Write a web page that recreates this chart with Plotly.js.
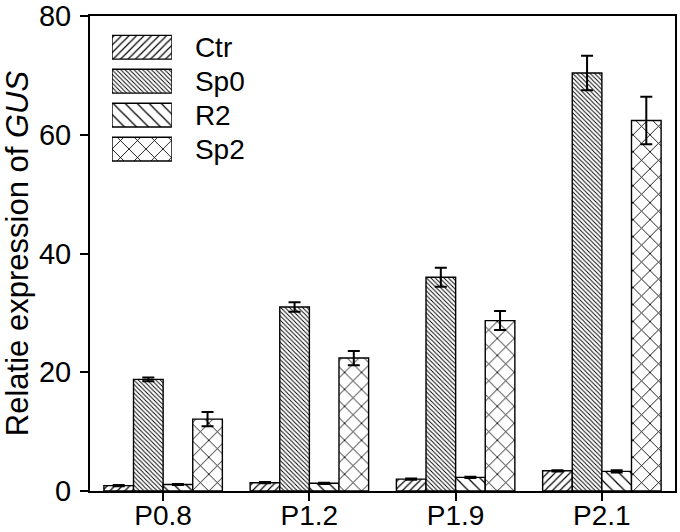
<!DOCTYPE html>
<html>
<head>
<meta charset="utf-8">
<script src="https://cdn.plot.ly/plotly-3.0.1.min.js"></script>
<style>
  html, body { margin: 0; padding: 0; background: #fff; }
  #chart { width: 680px; height: 532px; }
</style>
</head>
<body>
<div id="chart"></div>
<script>
// categories and series
var promoters = ['P0.8', 'P1.2', 'P1.9', 'P2.1'];
var seriesNames = ['Ctr', 'Sp0', 'R2', 'Sp2'];

var ctrVals = [0.9, 1.4, 2.0, 3.4];
var ctrErr = [0.1, 0.1, 0.1, 0.1];
var sp0Vals = [18.8, 31.0, 36.0, 70.4];
var sp0Err = [0.3, 0.8, 1.6, 2.9];
var r2Vals = [1.1, 1.3, 2.3, 3.3];
var r2Err = [0.1, 0.1, 0.1, 0.2];
var sp2Vals = [12.1, 22.4, 28.7, 62.4];
var sp2Err = [1.2, 1.2, 1.6, 4.0];

// hatch styles per series
var hatchShape = ['/', '\\', '\\', 'x'];
var hatchSize = [5.3, 3.1, 8.5, 12];
var hatchSolid = [0.22, 0.3, 0.15, 0.14];

var allVals = [ctrVals, sp0Vals, r2Vals, sp2Vals];
var allErr = [ctrErr, sp0Err, r2Err, sp2Err];

var traces = [];
for (var i = 0; i < seriesNames.length; i++) {
    traces.push({
        type: 'bar',
        name: seriesNames[i],
        x: promoters,
        y: allVals[i],
        error_y: { type: 'data', array: allErr[i], color: '#000', thickness: 2, width: 6 },
        marker: {
            color: '#fff',
            line: { color: '#000', width: 1.4 },
            pattern: { shape: hatchShape[i], size: hatchSize[i], solidity: hatchSolid[i],
                       fgcolor: '#000', bgcolor: '#fff', fillmode: 'replace' }
        },
        showlegend: false,
        hoverinfo: 'skip'
    });
}

// legend swatches drawn as a small horizontal bar subplot
traces.push({
    type: 'bar',
    orientation: 'h',
    xaxis: 'x2',
    yaxis: 'y2',
    y: seriesNames,
    x: seriesNames.map(function () { return 1; }),
    width: 0.7,
    offset: -0.35,
    marker: {
        color: '#fff',
        line: { color: '#000', width: 1.4 },
        pattern: { shape: hatchShape, size: hatchSize, solidity: hatchSolid,
                   fgcolor: '#000', bgcolor: '#fff', fillmode: 'replace' }
    },
    showlegend: false,
    hoverinfo: 'skip'
});

var font = 'Liberation Sans, Arial, sans-serif';

var layout = {
    width: 680,
    height: 532,
    margin: { l: 90, r: 5, t: 16, b: 41 },
    paper_bgcolor: '#fff',
    plot_bgcolor: 'rgba(0,0,0,0)',
    font: { family: font, size: 28, color: '#000' },
    barmode: 'group',
    bargap: 0.19,
    bargroupgap: 0,
    showlegend: false,
    xaxis: {
        range: [-0.5, 3.5],
        showline: true, linecolor: '#000', linewidth: 2, mirror: true,
        ticks: 'outside', ticklen: 8, tickwidth: 2, tickcolor: '#000',
        ticklabelstandoff: -10,
        showgrid: false, zeroline: false,
        tickfont: { size: 28 }
    },
    yaxis: {
        range: [0, 80],
        dtick: 20,
        showline: true, linecolor: '#000', linewidth: 2, mirror: true,
        ticks: 'outside', ticklen: 8, tickwidth: 2, tickcolor: '#000',
        ticklabelstandoff: 3,
        showgrid: false, zeroline: false,
        tickfont: { size: 29 },
        title: { text: 'Relatie expression of <i>GUS</i>', font: { size: 31 }, standoff: 4 }
    },
    xaxis2: {
        domain: [0.0376, 0.14],
        anchor: 'y2',
        range: [0, 1],
        visible: false,
        fixedrange: true
    },
    yaxis2: {
        domain: [0.684, 0.97],
        anchor: 'x2',
        side: 'right',
        autorange: 'reversed',
        tickmode: 'array',
        tickvals: seriesNames,
        ticktext: seriesNames,
        showline: false, showgrid: false, zeroline: false,
        ticks: '', ticklabelstandoff: 22,
        tickfont: { size: 28 },
        fixedrange: true
    }
};

Plotly.newPlot('chart', traces, layout, { staticPlot: true, displayModeBar: false });
</script>
</body>
</html>
